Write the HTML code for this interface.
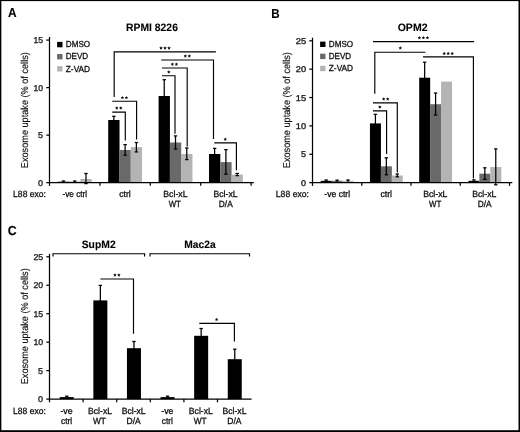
<!DOCTYPE html>
<html><head><meta charset="utf-8"><title>Figure</title>
<style>html,body{margin:0;padding:0;background:#fff;}svg{display:block;font-family:"Liberation Sans",sans-serif;text-rendering:geometricPrecision;}text{stroke:#111;stroke-width:0.3px;}svg{will-change:transform;transform:translateZ(0);}</style>
</head><body>
<svg width="520" height="432" viewBox="0 0 520 432">
<rect x="0" y="0" width="520" height="432" fill="#fff"/>
<defs><filter id="soft" x="0" y="0" width="520" height="432" filterUnits="userSpaceOnUse"><feGaussianBlur stdDeviation="0.35"/></filter></defs>
<g filter="url(#soft)">
<text x="8.00" y="17.30" font-size="13" font-weight="bold" style="stroke-width:0.1px" textLength="8.60" lengthAdjust="spacingAndGlyphs" fill="#000">A</text>
<text x="152.00" y="31.10" font-size="10.7" text-anchor="middle" font-weight="bold" style="stroke-width:0.1px" textLength="51.80" lengthAdjust="spacingAndGlyphs" fill="#000">RPMI 8226</text>
<text x="27.60" y="110.20" font-size="10" text-anchor="middle" style="stroke-width:0.15px" textLength="116.00" lengthAdjust="spacingAndGlyphs" transform="rotate(-90 27.60 110.20)" fill="#111">Exosome uptake (% of cells)</text>
<rect x="57.10" y="41.90" width="5.40" height="5.40" fill="#000"/>
<text x="65.80" y="47.40" font-size="8.7" textLength="24.30" lengthAdjust="spacingAndGlyphs" fill="#111">DMSO</text>
<rect x="57.10" y="54.00" width="5.40" height="5.40" fill="#696969"/>
<text x="65.80" y="59.10" font-size="8.7" textLength="22.40" lengthAdjust="spacingAndGlyphs" fill="#111">DEVD</text>
<rect x="57.10" y="66.10" width="5.40" height="5.40" fill="#b4b4b4"/>
<text x="65.80" y="71.60" font-size="8.7" textLength="24.30" lengthAdjust="spacingAndGlyphs" fill="#111">Z-VAD</text>
<rect x="57.80" y="181.70" width="11.32" height="0.95" fill="#000"/>
<rect x="69.07" y="181.70" width="11.32" height="0.95" fill="#696969"/>
<rect x="80.34" y="179.00" width="11.32" height="3.65" fill="#b4b4b4"/>
<rect x="108.20" y="120.00" width="11.32" height="62.65" fill="#000"/>
<rect x="119.47" y="150.00" width="11.32" height="32.65" fill="#696969"/>
<rect x="130.74" y="147.10" width="11.32" height="35.55" fill="#b4b4b4"/>
<rect x="158.60" y="96.00" width="11.32" height="86.65" fill="#000"/>
<rect x="169.87" y="142.50" width="11.32" height="40.15" fill="#696969"/>
<rect x="181.14" y="154.00" width="11.32" height="28.65" fill="#b4b4b4"/>
<rect x="209.00" y="154.00" width="11.32" height="28.65" fill="#000"/>
<rect x="220.27" y="162.10" width="11.32" height="20.55" fill="#696969"/>
<rect x="231.54" y="174.60" width="11.32" height="8.05" fill="#b4b4b4"/>
<line x1="63.43" y1="181.00" x2="63.43" y2="182.00" stroke="#000" stroke-width="1.3"/>
<line x1="61.73" y1="181.00" x2="65.13" y2="181.00" stroke="#000" stroke-width="1.3"/>
<line x1="74.70" y1="181.00" x2="74.70" y2="182.00" stroke="#000" stroke-width="1.3"/>
<line x1="73.00" y1="181.00" x2="76.41" y2="181.00" stroke="#000" stroke-width="1.3"/>
<line x1="85.98" y1="173.50" x2="85.98" y2="183.60" stroke="#000" stroke-width="1.25"/>
<line x1="84.28" y1="173.50" x2="87.68" y2="173.50" stroke="#000" stroke-width="1.25"/>
<line x1="84.28" y1="183.60" x2="87.68" y2="183.60" stroke="#000" stroke-width="1.25"/>
<line x1="113.84" y1="116.30" x2="113.84" y2="121.00" stroke="#000" stroke-width="1.25"/>
<line x1="112.14" y1="116.30" x2="115.54" y2="116.30" stroke="#000" stroke-width="1.25"/>
<line x1="125.11" y1="144.60" x2="125.11" y2="155.20" stroke="#000" stroke-width="1.25"/>
<line x1="123.41" y1="144.60" x2="126.81" y2="144.60" stroke="#000" stroke-width="1.25"/>
<line x1="123.41" y1="155.20" x2="126.81" y2="155.20" stroke="#000" stroke-width="1.25"/>
<line x1="136.38" y1="142.50" x2="136.38" y2="151.90" stroke="#000" stroke-width="1.25"/>
<line x1="134.68" y1="142.50" x2="138.07" y2="142.50" stroke="#000" stroke-width="1.25"/>
<line x1="134.68" y1="151.90" x2="138.07" y2="151.90" stroke="#000" stroke-width="1.25"/>
<line x1="164.24" y1="79.70" x2="164.24" y2="97.00" stroke="#000" stroke-width="1.25"/>
<line x1="162.54" y1="79.70" x2="165.94" y2="79.70" stroke="#000" stroke-width="1.25"/>
<line x1="175.51" y1="135.90" x2="175.51" y2="149.00" stroke="#000" stroke-width="1.25"/>
<line x1="173.81" y1="135.90" x2="177.21" y2="135.90" stroke="#000" stroke-width="1.25"/>
<line x1="173.81" y1="149.00" x2="177.21" y2="149.00" stroke="#000" stroke-width="1.25"/>
<line x1="186.78" y1="148.00" x2="186.78" y2="159.60" stroke="#000" stroke-width="1.25"/>
<line x1="185.08" y1="148.00" x2="188.47" y2="148.00" stroke="#000" stroke-width="1.25"/>
<line x1="185.08" y1="159.60" x2="188.47" y2="159.60" stroke="#000" stroke-width="1.25"/>
<line x1="214.63" y1="148.40" x2="214.63" y2="155.00" stroke="#000" stroke-width="1.25"/>
<line x1="212.94" y1="148.40" x2="216.33" y2="148.40" stroke="#000" stroke-width="1.25"/>
<line x1="225.91" y1="149.60" x2="225.91" y2="174.20" stroke="#000" stroke-width="1.25"/>
<line x1="224.21" y1="149.60" x2="227.60" y2="149.60" stroke="#000" stroke-width="1.25"/>
<line x1="224.21" y1="174.20" x2="227.60" y2="174.20" stroke="#000" stroke-width="1.25"/>
<line x1="237.17" y1="173.40" x2="237.17" y2="175.60" stroke="#000" stroke-width="1.25"/>
<line x1="235.47" y1="173.40" x2="238.87" y2="173.40" stroke="#000" stroke-width="1.25"/>
<line x1="235.47" y1="175.60" x2="238.87" y2="175.60" stroke="#000" stroke-width="1.25"/>
<line x1="49.50" y1="36.90" x2="49.50" y2="185.85" stroke="#000" stroke-width="1.25"/>
<line x1="46.30" y1="182.65" x2="49.50" y2="182.65" stroke="#000" stroke-width="1.25"/>
<text x="43.10" y="185.65" font-size="8.4" text-anchor="end" textLength="5.00" lengthAdjust="spacingAndGlyphs" fill="#111">0</text>
<line x1="46.30" y1="135.13" x2="49.50" y2="135.13" stroke="#000" stroke-width="1.25"/>
<text x="43.10" y="138.13" font-size="8.4" text-anchor="end" textLength="5.00" lengthAdjust="spacingAndGlyphs" fill="#111">5</text>
<line x1="46.30" y1="87.62" x2="49.50" y2="87.62" stroke="#000" stroke-width="1.25"/>
<text x="43.10" y="90.62" font-size="8.4" text-anchor="end" textLength="9.60" lengthAdjust="spacingAndGlyphs" fill="#111">10</text>
<line x1="46.30" y1="40.10" x2="49.50" y2="40.10" stroke="#000" stroke-width="1.25"/>
<text x="43.10" y="43.10" font-size="8.4" text-anchor="end" textLength="9.60" lengthAdjust="spacingAndGlyphs" fill="#111">15</text>
<line x1="48.90" y1="182.65" x2="253.80" y2="182.65" stroke="#000" stroke-width="1.25"/>
<line x1="99.90" y1="182.65" x2="99.90" y2="185.85" stroke="#000" stroke-width="1.25"/>
<line x1="150.30" y1="182.65" x2="150.30" y2="185.85" stroke="#000" stroke-width="1.25"/>
<line x1="200.70" y1="182.65" x2="200.70" y2="185.85" stroke="#000" stroke-width="1.25"/>
<line x1="251.10" y1="182.65" x2="251.10" y2="185.85" stroke="#000" stroke-width="1.25"/>
<polyline points="114.20,97.00 114.20,51.80 215.90,51.80" fill="none" stroke="#000" stroke-width="1.15"/>
<polygon points="161.00,46.30 161.53,47.37 162.71,47.54 161.86,48.38 162.06,49.56 161.00,49.00 159.94,49.56 160.14,48.38 159.29,47.54 160.47,47.37" fill="#111"/>
<polygon points="165.00,46.30 165.53,47.37 166.71,47.54 165.86,48.38 166.06,49.56 165.00,49.00 163.94,49.56 164.14,48.38 163.29,47.54 164.47,47.37" fill="#111"/>
<polygon points="169.00,46.30 169.53,47.37 170.71,47.54 169.86,48.38 170.06,49.56 169.00,49.00 167.94,49.56 168.14,48.38 167.29,47.54 168.47,47.37" fill="#111"/>
<polyline points="161.20,60.00 213.50,60.00 213.50,139.00" fill="none" stroke="#000" stroke-width="1.15"/>
<polygon points="185.30,54.20 185.83,55.27 187.01,55.44 186.16,56.28 186.36,57.46 185.30,56.90 184.24,57.46 184.44,56.28 183.59,55.44 184.77,55.27" fill="#111"/>
<polygon points="189.30,54.20 189.83,55.27 191.01,55.44 190.16,56.28 190.36,57.46 189.30,56.90 188.24,57.46 188.44,56.28 187.59,55.44 188.77,55.27" fill="#111"/>
<polyline points="162.00,68.00 187.20,68.00 187.20,146.50" fill="none" stroke="#000" stroke-width="1.15"/>
<polygon points="172.40,62.50 172.93,63.57 174.11,63.74 173.26,64.58 173.46,65.76 172.40,65.20 171.34,65.76 171.54,64.58 170.69,63.74 171.87,63.57" fill="#111"/>
<polygon points="176.40,62.50 176.93,63.57 178.11,63.74 177.26,64.58 177.46,65.76 176.40,65.20 175.34,65.76 175.54,64.58 174.69,63.74 175.87,63.57" fill="#111"/>
<polyline points="162.00,75.70 175.00,75.70 175.00,133.80" fill="none" stroke="#000" stroke-width="1.15"/>
<polygon points="168.80,70.20 169.33,71.27 170.51,71.44 169.66,72.28 169.86,73.46 168.80,72.90 167.74,73.46 167.94,72.28 167.09,71.44 168.27,71.27" fill="#111"/>
<polyline points="112.20,101.20 136.60,101.20 136.60,139.50" fill="none" stroke="#000" stroke-width="1.15"/>
<polygon points="122.40,95.90 122.93,96.97 124.11,97.14 123.26,97.98 123.46,99.16 122.40,98.60 121.34,99.16 121.54,97.98 120.69,97.14 121.87,96.97" fill="#111"/>
<polygon points="126.40,95.90 126.93,96.97 128.11,97.14 127.26,97.98 127.46,99.16 126.40,98.60 125.34,99.16 125.54,97.98 124.69,97.14 125.87,96.97" fill="#111"/>
<polyline points="112.20,112.10 125.30,112.10 125.30,140.60" fill="none" stroke="#000" stroke-width="1.15"/>
<polygon points="116.80,106.30 117.33,107.37 118.51,107.54 117.66,108.38 117.86,109.56 116.80,109.00 115.74,109.56 115.94,108.38 115.09,107.54 116.27,107.37" fill="#111"/>
<polygon points="120.80,106.30 121.33,107.37 122.51,107.54 121.66,108.38 121.86,109.56 120.80,109.00 119.74,109.56 119.94,108.38 119.09,107.54 120.27,107.37" fill="#111"/>
<polyline points="214.30,142.80 236.40,142.80 236.40,170.20" fill="none" stroke="#000" stroke-width="1.15"/>
<polygon points="225.20,137.50 225.73,138.57 226.91,138.74 226.06,139.58 226.26,140.76 225.20,140.20 224.14,140.76 224.34,139.58 223.49,138.74 224.67,138.57" fill="#111"/>
<text x="13.10" y="196.80" font-size="9.0" textLength="32.90" lengthAdjust="spacingAndGlyphs" fill="#111">L88 exo:</text>
<text x="74.80" y="196.50" font-size="9.0" text-anchor="middle" textLength="24.80" lengthAdjust="spacingAndGlyphs" fill="#111">-ve ctrl</text>
<text x="125.00" y="196.50" font-size="9.0" text-anchor="middle" textLength="11.60" lengthAdjust="spacingAndGlyphs" fill="#111">ctrl</text>
<text x="175.40" y="196.70" font-size="9.0" text-anchor="middle" textLength="24.20" lengthAdjust="spacingAndGlyphs" fill="#111">Bcl-xL</text>
<text x="174.80" y="207.10" font-size="9.0" text-anchor="middle" textLength="12.20" lengthAdjust="spacingAndGlyphs" fill="#111">WT</text>
<text x="225.50" y="196.70" font-size="9.0" text-anchor="middle" textLength="24.20" lengthAdjust="spacingAndGlyphs" fill="#111">Bcl-xL</text>
<text x="225.80" y="207.10" font-size="9.0" text-anchor="middle" textLength="13.90" lengthAdjust="spacingAndGlyphs" fill="#111">D/A</text>
<text x="271.20" y="17.50" font-size="13" font-weight="bold" style="stroke-width:0.1px" textLength="8.40" lengthAdjust="spacingAndGlyphs" fill="#000">B</text>
<text x="412.60" y="30.80" font-size="10.7" text-anchor="middle" font-weight="bold" style="stroke-width:0.1px" textLength="29.80" lengthAdjust="spacingAndGlyphs" fill="#000">OPM2</text>
<text x="290.50" y="110.20" font-size="10" text-anchor="middle" style="stroke-width:0.15px" textLength="116.00" lengthAdjust="spacingAndGlyphs" transform="rotate(-90 290.50 110.20)" fill="#111">Exosome uptake (% of cells)</text>
<rect x="320.10" y="41.60" width="5.40" height="5.40" fill="#000"/>
<text x="328.80" y="47.10" font-size="8.7" textLength="24.30" lengthAdjust="spacingAndGlyphs" fill="#111">DMSO</text>
<rect x="320.10" y="53.70" width="5.40" height="5.40" fill="#696969"/>
<text x="328.80" y="58.80" font-size="8.7" textLength="22.40" lengthAdjust="spacingAndGlyphs" fill="#111">DEVD</text>
<rect x="320.10" y="65.80" width="5.40" height="5.40" fill="#b4b4b4"/>
<text x="328.80" y="71.30" font-size="8.7" textLength="24.30" lengthAdjust="spacingAndGlyphs" fill="#111">Z-VAD</text>
<rect x="320.70" y="180.80" width="10.98" height="1.85" fill="#000"/>
<rect x="331.63" y="180.80" width="10.98" height="1.85" fill="#696969"/>
<rect x="342.56" y="180.80" width="10.98" height="1.85" fill="#b4b4b4"/>
<rect x="369.95" y="123.40" width="10.98" height="59.25" fill="#000"/>
<rect x="380.88" y="166.30" width="10.98" height="16.35" fill="#696969"/>
<rect x="391.81" y="175.50" width="10.98" height="7.15" fill="#b4b4b4"/>
<rect x="419.20" y="77.70" width="10.98" height="104.95" fill="#000"/>
<rect x="430.13" y="104.20" width="10.98" height="78.45" fill="#696969"/>
<rect x="441.06" y="81.60" width="10.98" height="101.05" fill="#b4b4b4"/>
<rect x="468.45" y="180.80" width="10.98" height="1.85" fill="#000"/>
<rect x="479.38" y="173.70" width="10.98" height="8.95" fill="#696969"/>
<rect x="490.31" y="167.00" width="10.98" height="15.65" fill="#b4b4b4"/>
<line x1="326.16" y1="180.00" x2="326.16" y2="182.00" stroke="#000" stroke-width="1.3"/>
<line x1="324.46" y1="180.00" x2="327.86" y2="180.00" stroke="#000" stroke-width="1.3"/>
<line x1="337.09" y1="180.20" x2="337.09" y2="182.00" stroke="#000" stroke-width="1.3"/>
<line x1="335.39" y1="180.20" x2="338.79" y2="180.20" stroke="#000" stroke-width="1.3"/>
<line x1="348.02" y1="180.00" x2="348.02" y2="182.00" stroke="#000" stroke-width="1.3"/>
<line x1="346.32" y1="180.00" x2="349.72" y2="180.00" stroke="#000" stroke-width="1.3"/>
<line x1="375.41" y1="114.30" x2="375.41" y2="124.00" stroke="#000" stroke-width="1.25"/>
<line x1="373.71" y1="114.30" x2="377.11" y2="114.30" stroke="#000" stroke-width="1.25"/>
<line x1="386.34" y1="157.80" x2="386.34" y2="174.80" stroke="#000" stroke-width="1.25"/>
<line x1="384.64" y1="157.80" x2="388.04" y2="157.80" stroke="#000" stroke-width="1.25"/>
<line x1="384.64" y1="174.80" x2="388.04" y2="174.80" stroke="#000" stroke-width="1.25"/>
<line x1="397.27" y1="174.00" x2="397.27" y2="176.80" stroke="#000" stroke-width="1.25"/>
<line x1="395.57" y1="174.00" x2="398.97" y2="174.00" stroke="#000" stroke-width="1.25"/>
<line x1="395.57" y1="176.80" x2="398.97" y2="176.80" stroke="#000" stroke-width="1.25"/>
<line x1="424.66" y1="62.20" x2="424.66" y2="78.00" stroke="#000" stroke-width="1.25"/>
<line x1="422.96" y1="62.20" x2="426.36" y2="62.20" stroke="#000" stroke-width="1.25"/>
<line x1="435.59" y1="93.00" x2="435.59" y2="115.00" stroke="#000" stroke-width="1.25"/>
<line x1="433.89" y1="93.00" x2="437.29" y2="93.00" stroke="#000" stroke-width="1.25"/>
<line x1="433.89" y1="115.00" x2="437.29" y2="115.00" stroke="#000" stroke-width="1.25"/>
<line x1="473.91" y1="179.90" x2="473.91" y2="182.00" stroke="#000" stroke-width="1.3"/>
<line x1="472.21" y1="179.90" x2="475.61" y2="179.90" stroke="#000" stroke-width="1.3"/>
<line x1="484.84" y1="167.80" x2="484.84" y2="179.40" stroke="#000" stroke-width="1.25"/>
<line x1="483.14" y1="167.80" x2="486.54" y2="167.80" stroke="#000" stroke-width="1.25"/>
<line x1="483.14" y1="179.40" x2="486.54" y2="179.40" stroke="#000" stroke-width="1.25"/>
<line x1="495.77" y1="148.90" x2="495.77" y2="184.80" stroke="#000" stroke-width="1.25"/>
<line x1="494.07" y1="148.90" x2="497.47" y2="148.90" stroke="#000" stroke-width="1.25"/>
<line x1="494.07" y1="184.80" x2="497.47" y2="184.80" stroke="#000" stroke-width="1.25"/>
<line x1="312.50" y1="37.70" x2="312.50" y2="185.85" stroke="#000" stroke-width="1.25"/>
<line x1="309.30" y1="182.65" x2="312.50" y2="182.65" stroke="#000" stroke-width="1.25"/>
<text x="306.10" y="185.65" font-size="8.4" text-anchor="end" textLength="5.00" lengthAdjust="spacingAndGlyphs" fill="#111">0</text>
<line x1="309.30" y1="154.28" x2="312.50" y2="154.28" stroke="#000" stroke-width="1.25"/>
<text x="306.10" y="157.28" font-size="8.4" text-anchor="end" textLength="5.00" lengthAdjust="spacingAndGlyphs" fill="#111">5</text>
<line x1="309.30" y1="125.91" x2="312.50" y2="125.91" stroke="#000" stroke-width="1.25"/>
<text x="306.10" y="128.91" font-size="8.4" text-anchor="end" textLength="10.30" lengthAdjust="spacingAndGlyphs" fill="#111">10</text>
<line x1="309.30" y1="97.54" x2="312.50" y2="97.54" stroke="#000" stroke-width="1.25"/>
<text x="306.10" y="100.54" font-size="8.4" text-anchor="end" textLength="10.30" lengthAdjust="spacingAndGlyphs" fill="#111">15</text>
<line x1="309.30" y1="69.17" x2="312.50" y2="69.17" stroke="#000" stroke-width="1.25"/>
<text x="306.10" y="72.17" font-size="8.4" text-anchor="end" textLength="10.30" lengthAdjust="spacingAndGlyphs" fill="#111">20</text>
<line x1="309.30" y1="40.80" x2="312.50" y2="40.80" stroke="#000" stroke-width="1.25"/>
<text x="306.10" y="43.80" font-size="8.4" text-anchor="end" textLength="10.30" lengthAdjust="spacingAndGlyphs" fill="#111">25</text>
<line x1="311.90" y1="182.65" x2="512.30" y2="182.65" stroke="#000" stroke-width="1.25"/>
<line x1="361.75" y1="182.65" x2="361.75" y2="185.85" stroke="#000" stroke-width="1.25"/>
<line x1="411.00" y1="182.65" x2="411.00" y2="185.85" stroke="#000" stroke-width="1.25"/>
<line x1="460.25" y1="182.65" x2="460.25" y2="185.85" stroke="#000" stroke-width="1.25"/>
<line x1="509.50" y1="182.65" x2="509.50" y2="185.85" stroke="#000" stroke-width="1.25"/>
<line x1="373.00" y1="41.60" x2="474.10" y2="41.60" stroke="#000" stroke-width="1.15"/>
<polygon points="419.40,36.00 419.93,37.07 421.11,37.24 420.26,38.08 420.46,39.26 419.40,38.70 418.34,39.26 418.54,38.08 417.69,37.24 418.87,37.07" fill="#111"/>
<polygon points="423.40,36.00 423.93,37.07 425.11,37.24 424.26,38.08 424.46,39.26 423.40,38.70 422.34,39.26 422.54,38.08 421.69,37.24 422.87,37.07" fill="#111"/>
<polygon points="427.40,36.00 427.93,37.07 429.11,37.24 428.26,38.08 428.46,39.26 427.40,38.70 426.34,39.26 426.54,38.08 425.69,37.24 426.87,37.07" fill="#111"/>
<polyline points="374.80,93.80 374.80,52.20 425.40,52.20" fill="none" stroke="#000" stroke-width="1.15"/>
<polygon points="400.30,46.20 400.83,47.27 402.01,47.44 401.16,48.28 401.36,49.46 400.30,48.90 399.24,49.46 399.44,48.28 398.59,47.44 399.77,47.27" fill="#111"/>
<polyline points="423.00,56.90 473.40,56.90 473.40,178.60" fill="none" stroke="#000" stroke-width="1.15"/>
<polygon points="444.20,51.70 444.73,52.77 445.91,52.94 445.06,53.78 445.26,54.96 444.20,54.40 443.14,54.96 443.34,53.78 442.49,52.94 443.67,52.77" fill="#111"/>
<polygon points="448.20,51.70 448.73,52.77 449.91,52.94 449.06,53.78 449.26,54.96 448.20,54.40 447.14,54.96 447.34,53.78 446.49,52.94 447.67,52.77" fill="#111"/>
<polygon points="452.20,51.70 452.73,52.77 453.91,52.94 453.06,53.78 453.26,54.96 452.20,54.40 451.14,54.96 451.34,53.78 450.49,52.94 451.67,52.77" fill="#111"/>
<polyline points="373.00,102.80 397.30,102.80 397.30,172.50" fill="none" stroke="#000" stroke-width="1.15"/>
<polygon points="383.70,97.20 384.23,98.27 385.41,98.44 384.56,99.28 384.76,100.46 383.70,99.90 382.64,100.46 382.84,99.28 381.99,98.44 383.17,98.27" fill="#111"/>
<polygon points="387.70,97.20 388.23,98.27 389.41,98.44 388.56,99.28 388.76,100.46 387.70,99.90 386.64,100.46 386.84,99.28 385.99,98.44 387.17,98.27" fill="#111"/>
<polyline points="373.00,110.80 386.60,110.80 386.60,154.00" fill="none" stroke="#000" stroke-width="1.15"/>
<polygon points="379.80,105.30 380.33,106.37 381.51,106.54 380.66,107.38 380.86,108.56 379.80,108.00 378.74,108.56 378.94,107.38 378.09,106.54 379.27,106.37" fill="#111"/>
<text x="275.80" y="196.80" font-size="9.0" textLength="33.20" lengthAdjust="spacingAndGlyphs" fill="#111">L88 exo:</text>
<text x="337.20" y="196.50" font-size="9.0" text-anchor="middle" textLength="25.80" lengthAdjust="spacingAndGlyphs" fill="#111">-ve ctrl</text>
<text x="386.20" y="196.50" font-size="9.0" text-anchor="middle" textLength="11.60" lengthAdjust="spacingAndGlyphs" fill="#111">ctrl</text>
<text x="435.30" y="196.70" font-size="9.0" text-anchor="middle" textLength="24.30" lengthAdjust="spacingAndGlyphs" fill="#111">Bcl-xL</text>
<text x="435.20" y="207.10" font-size="9.0" text-anchor="middle" textLength="12.20" lengthAdjust="spacingAndGlyphs" fill="#111">WT</text>
<text x="484.30" y="196.70" font-size="9.0" text-anchor="middle" textLength="24.10" lengthAdjust="spacingAndGlyphs" fill="#111">Bcl-xL</text>
<text x="484.60" y="207.10" font-size="9.0" text-anchor="middle" textLength="13.90" lengthAdjust="spacingAndGlyphs" fill="#111">D/A</text>
<text x="7.80" y="234.60" font-size="13" font-weight="bold" style="stroke-width:0.1px" textLength="8.90" lengthAdjust="spacingAndGlyphs" fill="#000">C</text>
<text x="98.70" y="247.90" font-size="10.7" text-anchor="middle" font-weight="bold" style="stroke-width:0.1px" textLength="34.00" lengthAdjust="spacingAndGlyphs" fill="#000">SupM2</text>
<text x="200.00" y="247.90" font-size="10.7" text-anchor="middle" font-weight="bold" style="stroke-width:0.1px" textLength="31.40" lengthAdjust="spacingAndGlyphs" fill="#000">Mac2a</text>
<text x="27.60" y="326.30" font-size="10" text-anchor="middle" style="stroke-width:0.15px" textLength="116.00" lengthAdjust="spacingAndGlyphs" transform="rotate(-90 27.60 326.30)" fill="#111">Exosome uptake (% of cells)</text>
<rect x="59.75" y="397.10" width="14.00" height="2.00" fill="#000"/>
<rect x="93.35" y="300.40" width="14.00" height="98.70" fill="#000"/>
<rect x="126.95" y="348.20" width="14.00" height="50.90" fill="#000"/>
<rect x="160.55" y="397.10" width="14.00" height="2.00" fill="#000"/>
<rect x="194.15" y="335.80" width="14.00" height="63.30" fill="#000"/>
<rect x="227.75" y="359.20" width="14.00" height="39.90" fill="#000"/>
<line x1="66.75" y1="396.20" x2="66.75" y2="398.00" stroke="#000" stroke-width="1.3"/>
<line x1="65.05" y1="396.20" x2="68.45" y2="396.20" stroke="#000" stroke-width="1.3"/>
<line x1="100.35" y1="285.40" x2="100.35" y2="301.00" stroke="#000" stroke-width="1.25"/>
<line x1="98.65" y1="285.40" x2="102.05" y2="285.40" stroke="#000" stroke-width="1.25"/>
<line x1="133.95" y1="341.50" x2="133.95" y2="349.00" stroke="#000" stroke-width="1.25"/>
<line x1="132.25" y1="341.50" x2="135.65" y2="341.50" stroke="#000" stroke-width="1.25"/>
<line x1="167.55" y1="396.20" x2="167.55" y2="398.00" stroke="#000" stroke-width="1.3"/>
<line x1="165.85" y1="396.20" x2="169.25" y2="396.20" stroke="#000" stroke-width="1.3"/>
<line x1="201.15" y1="328.50" x2="201.15" y2="336.00" stroke="#000" stroke-width="1.25"/>
<line x1="199.45" y1="328.50" x2="202.85" y2="328.50" stroke="#000" stroke-width="1.25"/>
<line x1="234.75" y1="349.20" x2="234.75" y2="360.00" stroke="#000" stroke-width="1.25"/>
<line x1="233.05" y1="349.20" x2="236.45" y2="349.20" stroke="#000" stroke-width="1.25"/>
<line x1="49.50" y1="253.80" x2="49.50" y2="402.30" stroke="#000" stroke-width="1.25"/>
<line x1="46.30" y1="399.10" x2="49.50" y2="399.10" stroke="#000" stroke-width="1.25"/>
<text x="43.10" y="402.10" font-size="8.4" text-anchor="end" textLength="5.00" lengthAdjust="spacingAndGlyphs" fill="#111">0</text>
<line x1="46.30" y1="370.64" x2="49.50" y2="370.64" stroke="#000" stroke-width="1.25"/>
<text x="43.10" y="373.64" font-size="8.4" text-anchor="end" textLength="5.00" lengthAdjust="spacingAndGlyphs" fill="#111">5</text>
<line x1="46.30" y1="342.18" x2="49.50" y2="342.18" stroke="#000" stroke-width="1.25"/>
<text x="43.10" y="345.18" font-size="8.4" text-anchor="end" textLength="9.70" lengthAdjust="spacingAndGlyphs" fill="#111">10</text>
<line x1="46.30" y1="313.72" x2="49.50" y2="313.72" stroke="#000" stroke-width="1.25"/>
<text x="43.10" y="316.72" font-size="8.4" text-anchor="end" textLength="9.70" lengthAdjust="spacingAndGlyphs" fill="#111">15</text>
<line x1="46.30" y1="285.26" x2="49.50" y2="285.26" stroke="#000" stroke-width="1.25"/>
<text x="43.10" y="288.26" font-size="8.4" text-anchor="end" textLength="9.70" lengthAdjust="spacingAndGlyphs" fill="#111">20</text>
<line x1="46.30" y1="256.80" x2="49.50" y2="256.80" stroke="#000" stroke-width="1.25"/>
<text x="43.10" y="259.80" font-size="8.4" text-anchor="end" textLength="9.70" lengthAdjust="spacingAndGlyphs" fill="#111">25</text>
<line x1="48.90" y1="399.10" x2="251.60" y2="399.10" stroke="#000" stroke-width="1.25"/>
<line x1="83.10" y1="399.10" x2="83.10" y2="402.30" stroke="#000" stroke-width="1.25"/>
<line x1="116.70" y1="399.10" x2="116.70" y2="402.30" stroke="#000" stroke-width="1.25"/>
<line x1="150.30" y1="399.10" x2="150.30" y2="402.30" stroke="#000" stroke-width="1.25"/>
<line x1="183.90" y1="399.10" x2="183.90" y2="402.30" stroke="#000" stroke-width="1.25"/>
<line x1="217.50" y1="399.10" x2="217.50" y2="402.30" stroke="#000" stroke-width="1.25"/>
<polyline points="53.00,256.60 53.00,253.70 144.60,253.70 144.60,256.60" fill="none" stroke="#000" stroke-width="1.15"/>
<polyline points="150.00,256.60 150.00,253.70 249.50,253.70 249.50,256.60" fill="none" stroke="#000" stroke-width="1.15"/>
<polyline points="100.40,279.00 133.50,279.00 133.50,333.80" fill="none" stroke="#000" stroke-width="1.15"/>
<polygon points="114.90,273.20 115.43,274.27 116.61,274.44 115.76,275.28 115.96,276.46 114.90,275.90 113.84,276.46 114.04,275.28 113.19,274.44 114.37,274.27" fill="#111"/>
<polygon points="118.90,273.20 119.43,274.27 120.61,274.44 119.76,275.28 119.96,276.46 118.90,275.90 117.84,276.46 118.04,275.28 117.19,274.44 118.37,274.27" fill="#111"/>
<polyline points="199.30,323.40 234.40,323.40 234.40,341.50" fill="none" stroke="#000" stroke-width="1.15"/>
<polygon points="216.60,317.70 217.13,318.77 218.31,318.94 217.46,319.78 217.66,320.96 216.60,320.40 215.54,320.96 215.74,319.78 214.89,318.94 216.07,318.77" fill="#111"/>
<text x="13.10" y="413.50" font-size="9.0" textLength="32.70" lengthAdjust="spacingAndGlyphs" fill="#111">L88 exo:</text>
<text x="66.55" y="413.70" font-size="9.0" text-anchor="middle" textLength="12.20" lengthAdjust="spacingAndGlyphs" fill="#111">-ve</text>
<text x="66.55" y="423.70" font-size="9.0" text-anchor="middle" textLength="11.30" lengthAdjust="spacingAndGlyphs" fill="#111">ctrl</text>
<text x="100.05" y="413.70" font-size="9.0" text-anchor="middle" textLength="24.00" lengthAdjust="spacingAndGlyphs" fill="#111">Bcl-xL</text>
<text x="99.35" y="423.70" font-size="9.0" text-anchor="middle" textLength="12.90" lengthAdjust="spacingAndGlyphs" fill="#111">WT</text>
<text x="133.65" y="413.70" font-size="9.0" text-anchor="middle" textLength="24.00" lengthAdjust="spacingAndGlyphs" fill="#111">Bcl-xL</text>
<text x="133.65" y="423.70" font-size="9.0" text-anchor="middle" textLength="14.20" lengthAdjust="spacingAndGlyphs" fill="#111">D/A</text>
<text x="167.35" y="413.70" font-size="9.0" text-anchor="middle" textLength="12.20" lengthAdjust="spacingAndGlyphs" fill="#111">-ve</text>
<text x="167.35" y="423.70" font-size="9.0" text-anchor="middle" textLength="11.30" lengthAdjust="spacingAndGlyphs" fill="#111">ctrl</text>
<text x="200.85" y="413.70" font-size="9.0" text-anchor="middle" textLength="24.00" lengthAdjust="spacingAndGlyphs" fill="#111">Bcl-xL</text>
<text x="200.15" y="423.70" font-size="9.0" text-anchor="middle" textLength="12.90" lengthAdjust="spacingAndGlyphs" fill="#111">WT</text>
<text x="234.45" y="413.70" font-size="9.0" text-anchor="middle" textLength="24.00" lengthAdjust="spacingAndGlyphs" fill="#111">Bcl-xL</text>
<text x="234.45" y="423.70" font-size="9.0" text-anchor="middle" textLength="14.20" lengthAdjust="spacingAndGlyphs" fill="#111">D/A</text>
</g>
<rect x="0.00" y="0.00" width="520.00" height="1.10" fill="#000"/>
<rect x="0.00" y="0.00" width="1.35" height="432.00" fill="#000"/>
<rect x="518.50" y="0.00" width="1.50" height="432.00" fill="#000"/>
<rect x="0.00" y="430.20" width="520.00" height="1.80" fill="#000"/>
</svg></body></html>
